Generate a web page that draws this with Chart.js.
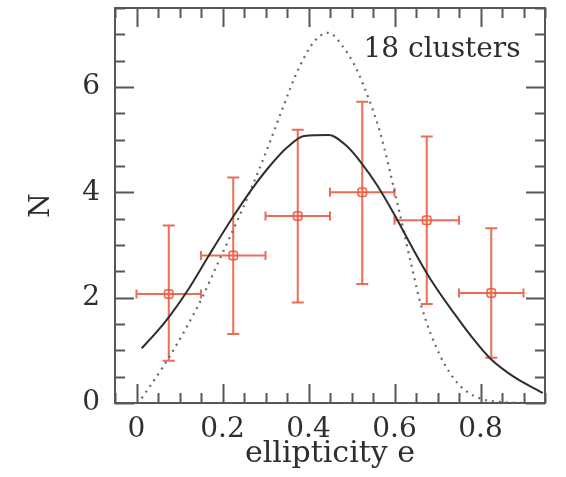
<!DOCTYPE html>
<html>
<head>
<meta charset="utf-8">
<script src="https://cdn.jsdelivr.net/npm/chart.js@4.4.1/dist/chart.umd.min.js"></script>
<style>
  html, body { margin:0; padding:0; background:#fff; }
  #wrap { width:566px; height:477px; }
</style>
</head>
<body>
<div id="wrap"><canvas id="ellip"></canvas></div>
<script>
// binned data (red points with error bars)
const binCenters = [0.075, 0.225, 0.375, 0.525, 0.675, 0.825];
const binHalfWidth = [0.075, 0.075, 0.075, 0.075, 0.075, 0.075];
const binN = [2.07, 2.8, 3.55, 4.0, 3.47, 2.09];
const binLow = [0.8, 1.31, 1.91, 2.26, 1.88, 0.86];
const binHigh = [3.37, 4.28, 5.19, 5.72, 5.06, 3.32];

// solid model curve
const solidE = [0.012, 0.045, 0.078, 0.12, 0.169, 0.225, 0.27, 0.31, 0.35, 0.39, 0.447, 0.49, 0.52, 0.56, 0.605, 0.64, 0.683, 0.738, 0.78, 0.822, 0.877, 0.945];
const solidN = [1.04, 1.33, 1.66, 2.15, 2.81, 3.54, 4.08, 4.5, 4.85, 5.07, 5.09, 4.87, 4.59, 4.13, 3.5, 2.97, 2.36, 1.71, 1.25, 0.85, 0.5, 0.19];

// dotted model curve
const dotE = [0.012, 0.062, 0.109, 0.152, 0.19, 0.225, 0.269, 0.31, 0.34, 0.377, 0.415, 0.447, 0.477, 0.508, 0.527, 0.566, 0.605, 0.644, 0.662, 0.706, 0.752, 0.798, 0.845, 0.9];
const dotN = [0.09, 0.69, 1.33, 1.99, 2.67, 3.29, 4.11, 4.95, 5.6, 6.35, 6.88, 7.03, 6.8, 6.4, 6.05, 5.15, 3.85, 2.45, 1.85, 0.9, 0.33, 0.09, 0.02, 0.0];

const xMajor = [0, 0.2, 0.4, 0.6, 0.8];
const yMajor = [0, 2, 4, 6];

const RED = "rgba(232,84,56,0.85)";
const INK = "#2e2e2e";
const FRAME = "#5a5654";
const FONT = "'DejaVu Serif', 'Liberation Serif', serif";

const pts = (xs, ys) => xs.map((x, i) => ({ x, y: ys[i] }));

const errorBars = {
  id: "errorBars",
  beforeDatasetsDraw(chart){
    const { ctx, scales: { x, y } } = chart;
    ctx.save();
    ctx.strokeStyle = RED;
    ctx.lineWidth = 2;
    binCenters.forEach((c, i) => {
      const px = x.getPixelForValue(c);
      const py = y.getPixelForValue(binN[i]);
      const x0 = x.getPixelForValue(c - binHalfWidth[i]);
      const x1 = x.getPixelForValue(c + binHalfWidth[i]);
      const y0 = y.getPixelForValue(binLow[i]);
      const y1 = y.getPixelForValue(binHigh[i]);
      ctx.beginPath();
      ctx.moveTo(px, y0); ctx.lineTo(px, y1);
      ctx.moveTo(px - 6, y0); ctx.lineTo(px + 6, y0);
      ctx.moveTo(px - 6, y1); ctx.lineTo(px + 6, y1);
      ctx.moveTo(x0, py); ctx.lineTo(x1, py);
      ctx.moveTo(x0, py - 4.5); ctx.lineTo(x0, py + 4.5);
      ctx.moveTo(x1, py - 4.5); ctx.lineTo(x1, py + 4.5);
      ctx.stroke();
    });
    ctx.restore();
  }
};

// box frame with inward ticks on all four sides
const frameTicks = {
  id: "frameTicks",
  afterDraw(chart){
    const { ctx, chartArea: a, scales: { x, y } } = chart;
    ctx.save();
    ctx.strokeStyle = FRAME;
    ctx.lineWidth = 2;
    ctx.strokeRect(a.left, a.top, a.right - a.left, a.bottom - a.top);
    ctx.beginPath();
    for (let v = -0.05; v <= 0.951; v += 0.05){
      const px = Math.round(x.getPixelForValue(v)) + 0.5;
      const major = xMajor.some(m => Math.abs(m - v) < 1e-6);
      const len = major ? 19 : 10;
      ctx.moveTo(px, a.bottom); ctx.lineTo(px, a.bottom - len);
      ctx.moveTo(px, a.top); ctx.lineTo(px, a.top + len);
    }
    for (let v = 0; v <= 7.5; v += 0.5){
      const py = Math.round(y.getPixelForValue(v)) + 0.5;
      const major = yMajor.some(m => Math.abs(m - v) < 1e-6);
      const len = major ? 19 : 10;
      ctx.moveTo(a.left, py); ctx.lineTo(a.left + len, py);
      ctx.moveTo(a.right, py); ctx.lineTo(a.right - len, py);
    }
    ctx.stroke();
    ctx.fillStyle = INK;
    ctx.font = "28px " + FONT;
    ctx.textAlign = "center";
    ctx.textBaseline = "middle";
    ctx.fillText("18 clusters", 442, 50);
    ctx.restore();
  }
};

new Chart(document.getElementById("ellip"), {
  type: "scatter",
  data: {
    datasets: [
      {
        label: "model",
        type: "line",
        data: pts(solidE, solidN),
        borderColor: INK,
        borderWidth: 2,
        pointRadius: 0,
        cubicInterpolationMode: "monotone",
        fill: false
      },
      {
        label: "model (dotted)",
        type: "line",
        data: pts(dotE, dotN),
        borderColor: "#6a6a6a",
        borderWidth: 2.2,
        borderDash: [2, 5],
        pointRadius: 0,
        cubicInterpolationMode: "monotone",
        fill: false
      },
      {
        label: "clusters",
        data: pts(binCenters, binN),
        pointStyle: "rectRounded",
        pointRadius: 5,
        backgroundColor: "rgba(232,84,56,0.15)",
        borderColor: RED,
        borderWidth: 1.5
      }
    ]
  },
  options: {
    responsive: true,
    maintainAspectRatio: false,
    animation: false,
    layout: { padding: { top: 8, right: 21, left: 0, bottom: 0 } },
    plugins: { legend: { display: false }, tooltip: { enabled: false } },
    scales: {
      x: {
        type: "linear",
        min: -0.05, max: 0.95,
        grid: { display: false, drawTicks: false },
        border: { display: false },
        afterBuildTicks: (s) => { s.ticks = xMajor.map(v => ({ value: v })); },
        afterFit: (s) => { s.height = 74; s.paddingLeft = 0; s.paddingRight = 0; },
        ticks: {
          color: INK,
          padding: 10,
          maxRotation: 0,
          font: { family: FONT, size: 28 },
          callback: (v) => v === 0 ? "0" : v.toFixed(1)
        },
        title: {
          display: true,
          text: "ellipticity e",
          color: INK,
          font: { family: FONT, size: 30 },
          padding: { top: 0, bottom: 5 }
        }
      },
      y: {
        type: "linear",
        min: 0, max: 7.5,
        grid: { display: false, drawTicks: false },
        border: { display: false },
        afterBuildTicks: (s) => { s.ticks = yMajor.map(v => ({ value: v })); },
        afterFit: (s) => { s.width = 115; s.paddingTop = 0; s.paddingBottom = 0; },
        ticks: {
          color: INK,
          padding: 15,
          font: { family: FONT, size: 28 },
          callback: (v) => String(v)
        },
        title: {
          display: true,
          text: "N",
          color: INK,
          font: { family: FONT, size: 28 },
          padding: { top: 25, bottom: 0 }
        }
      }
    }
  },
  plugins: [errorBars, frameTicks]
});
</script>
</body>
</html>
